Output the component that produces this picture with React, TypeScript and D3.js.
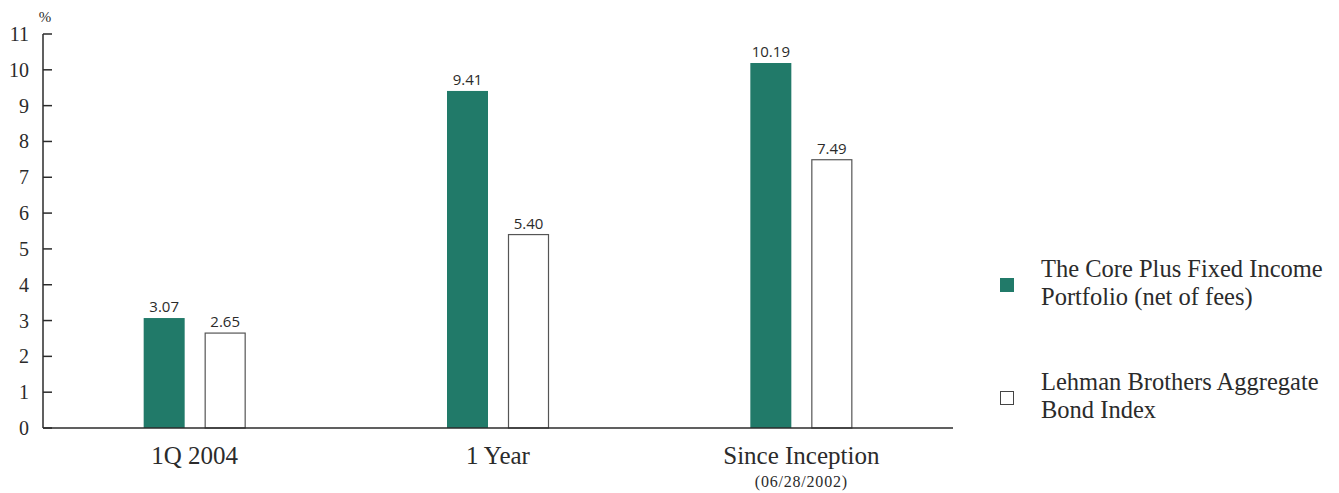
import React, { useEffect, useRef } from 'react';
import * as d3 from 'd3';

const categories = ['1Q 2004', '1 Year', 'Since Inception'];
const subLabels = ['', '', '(06/28/2002)'];
const series = ['The Core Plus Fixed Income Portfolio (net of fees)', 'Lehman Brothers Aggregate Bond Index'];
const portfolio = [3.07, 9.41, 10.19];
const benchmark = [2.65, 5.4, 7.49];
const valueLabels = [['3.07', '9.41', '10.19'], ['2.65', '5.40', '7.49']];
const yTicks = [0, 1, 2, 3, 4, 5, 6, 7, 8, 9, 10, 11];
const legendLines = [
  ['The Core Plus Fixed Income', 'Portfolio (net of fees)'],
  ['Lehman Brothers Aggregate', 'Bond Index'],
];

const GREEN = '#217a69';
const INK = '#2b2b2b';
const SERIF = '"Liberation Serif", "DejaVu Serif", serif';
const SANS = '"Open Sans", "DejaVu Sans", sans-serif';

const width = 1339;
const height = 493;
const margin = { top: 34, left: 43, right: 386, bottom: 65 };

export default function App() {
  const svgRef = useRef<SVGSVGElement>(null);

  useEffect(() => {
    if (!svgRef.current) return;
    const svg = d3.select(svgRef.current);
    svg.selectAll('*').remove();

    const x = d3.scaleBand<string>()
      .domain(categories)
      .range([margin.left, width - margin.right])
      .padding(0);

    const y = d3.scaleLinear()
      .domain([0, 11])
      .range([height - margin.bottom, margin.top]);

    // two bars per group: 41px wide, 20px apart
    const inner = d3.scaleBand<string>()
      .domain(['a', 'b'])
      .range([-51, 51])
      .paddingInner(20 / 61);

    // y axis with inward ticks
    const yAxis = svg.append('g').attr('transform', `translate(${margin.left},0)`);
    yAxis.append('line')
      .attr('x1', 0).attr('x2', 0)
      .attr('y1', y(11)).attr('y2', y(0))
      .attr('stroke', INK).attr('stroke-width', 1.5);
    yAxis.selectAll('line.tick')
      .data(yTicks)
      .join('line')
      .attr('class', 'tick')
      .attr('x1', 0).attr('x2', 9)
      .attr('y1', d => y(d)).attr('y2', d => y(d))
      .attr('stroke', INK).attr('stroke-width', 1.5);
    yAxis.selectAll('text')
      .data(yTicks)
      .join('text')
      .attr('x', -14)
      .attr('y', d => y(d))
      .attr('dy', '0.35em')
      .attr('text-anchor', 'end')
      .attr('font-family', SERIF)
      .attr('font-size', 20)
      .attr('fill', INK)
      .text(d => d);

    svg.append('text')
      .attr('x', 45).attr('y', 22)
      .attr('text-anchor', 'middle')
      .attr('font-family', SERIF)
      .attr('font-size', 15)
      .attr('fill', INK)
      .text('%');

    // bars
    const groups = svg.append('g')
      .selectAll('g')
      .data(categories)
      .join('g')
      .attr('transform', d => `translate(${x(d)! + x.bandwidth() / 2},0)`);

    groups.append('rect')
      .attr('x', inner('a')!)
      .attr('width', inner.bandwidth())
      .attr('y', (_, i) => y(portfolio[i]))
      .attr('height', (_, i) => y(0) - y(portfolio[i]))
      .attr('fill', GREEN);

    groups.append('rect')
      .attr('x', inner('b')! + 0.5)
      .attr('width', inner.bandwidth() - 1)
      .attr('y', (_, i) => y(benchmark[i]))
      .attr('height', (_, i) => y(0) - y(benchmark[i]))
      .attr('fill', '#fff')
      .attr('stroke', '#555')
      .attr('stroke-width', 1.2);

    groups.append('text')
      .attr('x', inner('a')! + inner.bandwidth() / 2)
      .attr('y', (_, i) => y(portfolio[i]) - 6)
      .attr('text-anchor', 'middle')
      .attr('font-family', SANS)
      .attr('font-size', 15)
      .attr('fill', INK)
      .text((_, i) => valueLabels[0][i]);

    groups.append('text')
      .attr('x', inner('b')! + inner.bandwidth() / 2)
      .attr('y', (_, i) => y(benchmark[i]) - 6)
      .attr('text-anchor', 'middle')
      .attr('font-family', SANS)
      .attr('font-size', 15)
      .attr('fill', INK)
      .text((_, i) => valueLabels[1][i]);

    groups.append('text')
      .attr('y', 464)
      .attr('text-anchor', 'middle')
      .attr('font-family', SERIF)
      .attr('font-size', 25)
      .attr('fill', INK)
      .text(d => d);

    groups.append('text')
      .attr('y', 487)
      .attr('text-anchor', 'middle')
      .attr('font-family', SERIF)
      .attr('font-size', 16)
      .attr('letter-spacing', 0.8)
      .attr('fill', INK)
      .text((_, i) => subLabels[i]);

    // x axis baseline
    svg.append('line')
      .attr('x1', margin.left).attr('x2', width - margin.right)
      .attr('y1', y(0)).attr('y2', y(0))
      .attr('stroke', INK).attr('stroke-width', 1.5);

    // legend
    const legend = svg.append('g')
      .selectAll('g')
      .data(series)
      .join('g')
      .attr('transform', (_, i) => `translate(1000,${i === 0 ? 278 : 391})`);

    legend.append('rect')
      .attr('x', (_, i) => (i === 0 ? 0 : 0.5))
      .attr('y', (_, i) => (i === 0 ? 0 : 0.5))
      .attr('width', (_, i) => (i === 0 ? 14 : 13))
      .attr('height', (_, i) => (i === 0 ? 14 : 13))
      .attr('fill', (_, i) => (i === 0 ? GREEN : '#fff'))
      .attr('stroke', (_, i) => (i === 0 ? 'none' : '#444'))
      .attr('stroke-width', 1);

    legend.each(function (_, i) {
      const t = d3.select(this).append('text')
        .attr('font-family', SERIF)
        .attr('font-size', 24.5)
        .attr('fill', INK);
      legendLines[i].forEach((line, j) => {
        t.append('tspan')
          .attr('x', 41)
          .attr('y', -1 + j * 28)
          .text(line);
      });
    });
  }, []);

  return (
    <svg
      ref={svgRef}
      width={width}
      height={height}
      style={{ position: 'absolute', left: 0, top: 0, background: '#fff' }}
    />
  );
}
